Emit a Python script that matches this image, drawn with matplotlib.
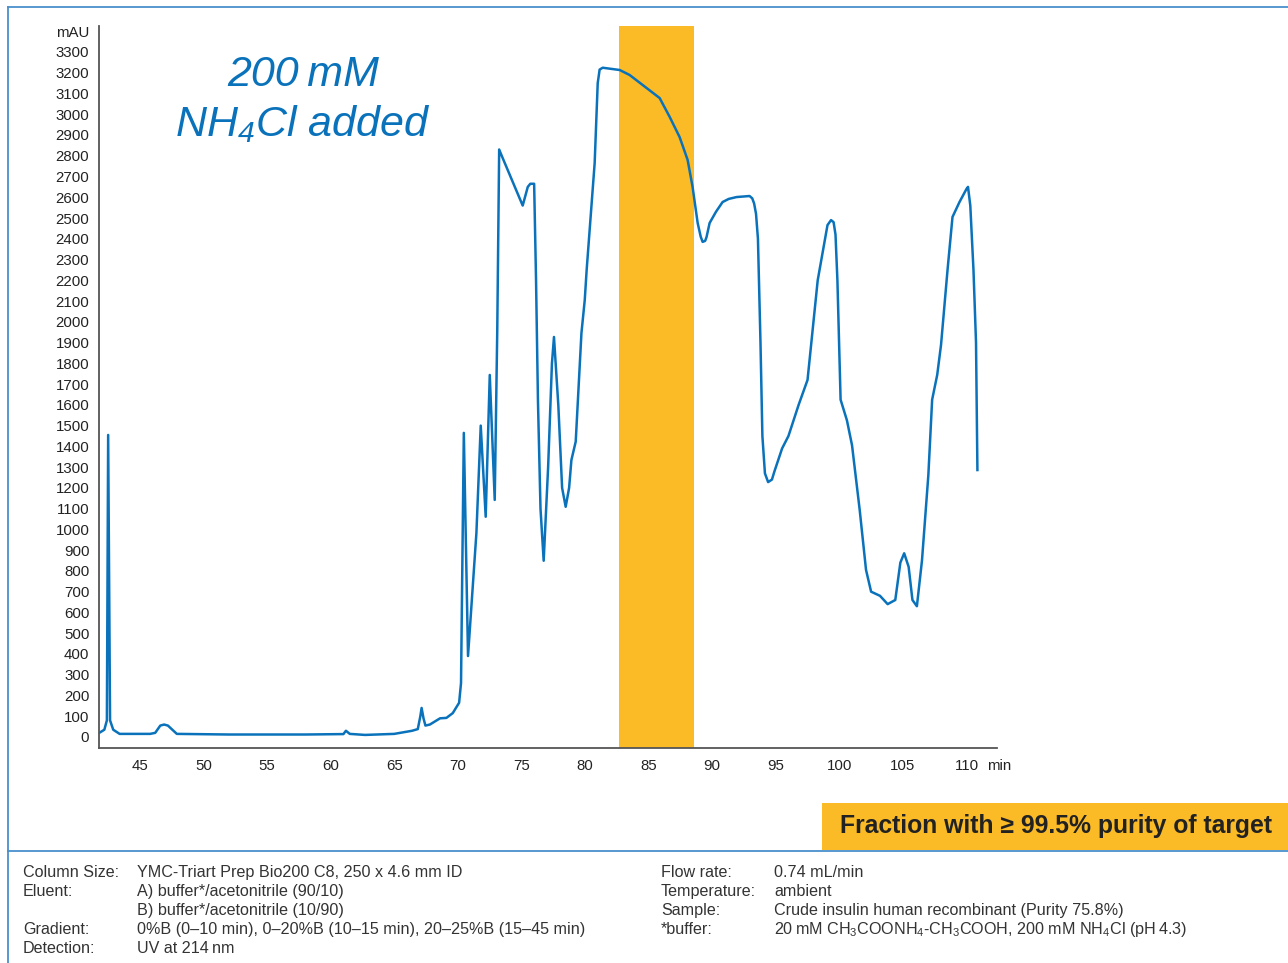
import matplotlib.pyplot as plt
from matplotlib.patches import Rectangle
from matplotlib.lines import Line2D

plt.rcParams['font.family'] = ['Liberation Sans', 'DejaVu Sans']

# chromatogram trace (min, mAU)
time_min = [41.8, 42.2, 42.4, 42.5, 42.65, 42.9, 43.4, 45.8, 46.2, 46.6, 46.9, 47.2, 47.9,
            52.0, 58.0, 61.0, 61.2, 61.5, 62.7, 65.0, 66.4, 66.85, 67.05, 67.15, 67.3, 67.45,
            67.8, 68.6, 69.1, 69.6, 70.1, 70.25, 70.47, 70.8, 71.46, 71.8, 72.19, 72.51, 72.9,
            73.1, 73.25, 73.45, 75.1, 75.5, 75.7, 76.0, 76.15, 76.3, 76.5, 76.75, 77.1, 77.4,
            77.56, 77.9, 78.2, 78.48, 78.75, 78.93, 79.27, 79.72, 79.98, 80.13, 80.76, 81.0,
            81.15, 81.39, 82.73, 83.51, 85.87, 86.66, 87.44, 88.07, 88.46, 88.86, 89.1, 89.25,
            89.45, 89.56, 89.8, 90.3, 90.82, 91.3, 91.92, 92.94, 93.15, 93.3, 93.45, 93.6, 93.8,
            93.95, 94.15, 94.4, 94.7, 94.9, 95.5, 96.0, 96.8, 97.5, 97.9, 98.3, 98.68, 99.07,
            99.35, 99.55, 99.7, 99.85, 100.1, 100.6, 101.0, 101.6, 102.1, 102.5, 103.2, 103.8,
            104.4, 104.8, 105.1, 105.45, 105.75, 106.1, 106.5, 107.0, 107.3, 107.7, 108.0,
            108.51, 108.9, 109.45, 110.0, 110.12, 110.3, 110.55, 110.75, 110.86]
signal_mau = [20, 35, 80, 1455, 80, 35, 15, 15, 20, 55, 60, 55, 15,
              12, 12, 14, 30, 15, 10, 15, 30, 38, 100, 140, 90, 55,
              60, 90, 92, 115, 165, 260, 1465, 390, 983, 1500, 1061, 1744, 1142,
              1960, 2830, 2800, 2560, 2650, 2665, 2665, 2200, 1620, 1100, 849, 1300, 1800,
              1927, 1600, 1200, 1109, 1200, 1334, 1423, 1946, 2105, 2250, 2765, 3150,
              3215, 3224, 3213, 3189, 3078, 2987, 2890, 2780, 2650, 2476, 2410, 2385,
              2390, 2409, 2476, 2530, 2577, 2592, 2601, 2606, 2595, 2570, 2520, 2400, 1900,
              1450, 1270, 1228, 1240, 1280, 1390, 1450, 1600, 1720, 1960, 2200, 2332, 2466,
              2490, 2480, 2420, 2200, 1625, 1525, 1405, 1095, 805, 700, 680, 640,
              660, 840, 885, 820, 660, 630, 850, 1260, 1625, 1745, 1890,
              2250, 2505, 2577, 2640, 2650, 2560, 2250, 1900, 1286]

fraction_start, fraction_end = 82.66, 88.55

x_ticks = [45, 50, 55, 60, 65, 70, 75, 80, 85, 90, 95, 100, 105, 110]
y_ticks = list(range(0, 3500, 100))
y_labels = [str(v) for v in range(0, 3400, 100)] + ['mAU']

conditions_left = [('Column Size:', 'YMC-Triart Prep Bio200 C8, 250 x 4.6 mm ID'),
                   ('Eluent:', 'A) buffer*/acetonitrile (90/10)'),
                   ('', 'B) buffer*/acetonitrile (10/90)'),
                   ('Gradient:', '0%B (0\u201310 min), 0\u201320%B (10\u201315 min), 20\u201325%B (15\u201345 min)'),
                   ('Detection:', 'UV at 214\u2009nm')]
conditions_right = [('Flow rate:', '0.74 mL/min'),
                    ('Temperature:', 'ambient'),
                    ('Sample:', 'Crude insulin human recombinant (Purity 75.8%)'),
                    ('*buffer:', '20\u2009mM CH$_\\mathregular{3}$COONH$_\\mathregular{4}$-CH$_\\mathregular{3}$COOH, '
                                 '200 mM NH$_\\mathregular{4}$Cl (pH\u20094.3)')]

blue = '#0a72ba'
orange = '#fbbb27'
frame = '#4a90cc'
W, H = 1288, 963

fig = plt.figure(figsize=(W / 100, H / 100), dpi=100)
ax = fig.add_axes([99 / W, 1 - 748 / H, 898 / W, 722 / H])

ax.axvspan(fraction_start, fraction_end, color=orange, lw=0, zorder=1)
ax.plot(time_min, signal_mau, color=blue, lw=1.8, zorder=3, solid_joinstyle='round')

ax.set_xlim(41.78, 112.4)
ax.set_ylim(-53, 3425)
ax.set_xticks(x_ticks)
ax.set_yticks(y_ticks)
ax.set_yticklabels(y_labels)
ax.tick_params(length=0, labelsize=10.8, colors='#222222')
ax.tick_params(axis='x', pad=8)
ax.tick_params(axis='y', pad=7)
for s in ['top', 'right']:
    ax.spines[s].set_visible(False)
for s in ['left', 'bottom']:
    ax.spines[s].set_color('#555555')
    ax.spines[s].set_linewidth(1.3)
ax.annotate('min', xy=(112.6, 0), xycoords=('data', 'axes fraction'),
            xytext=(0, -8), textcoords='offset points', ha='center', va='top',
            fontsize=10.8, color='#222222', annotation_clip=False)

fig.text(303 / W, 1 - 75 / H, '200\u2009mM', ha='center', va='center',
         fontsize=31, style='italic', color=blue)
fig.text(303 / W, 1 - 124 / H, r'NH$_\mathregular{4}$Cl added', ha='center', va='center',
         fontsize=31, style='italic', color=blue)

# frame lines
fig.add_artist(Line2D([8 / W, 8 / W], [0, 1 - 7 / H], color=frame, lw=1.3))
fig.add_artist(Line2D([8 / W, 1], [1 - 7 / H, 1 - 7 / H], color=frame, lw=1.3))
fig.add_artist(Line2D([8 / W, 1], [1 - 851 / H, 1 - 851 / H], color=frame, lw=1.3))

fig.add_artist(Rectangle((822 / W, 1 - 850 / H), (W - 822) / W, 47 / H,
                         transform=fig.transFigure, color=orange, lw=0))
fig.text(1056 / W, 1 - 826 / H, 'Fraction with \u2265 99.5% purity of target',
         ha='center', va='center', fontsize=17.8, weight='bold', color='#222222')

for i, (lab, val) in enumerate(conditions_left):
    y = 1 - (872 + 19 * i) / H
    fig.text(23 / W, y, lab, ha='left', va='center', fontsize=11.6, color='#333333')
    fig.text(137 / W, y, val, ha='left', va='center', fontsize=11.6, color='#333333')
for i, (lab, val) in enumerate(conditions_right):
    y = 1 - (872 + 19 * i) / H
    fig.text(661 / W, y, lab, ha='left', va='center', fontsize=11.6, color='#333333')
    fig.text(774 / W, y, val, ha='left', va='center', fontsize=11.6, color='#333333')

fig.savefig('out.png', dpi=100)
